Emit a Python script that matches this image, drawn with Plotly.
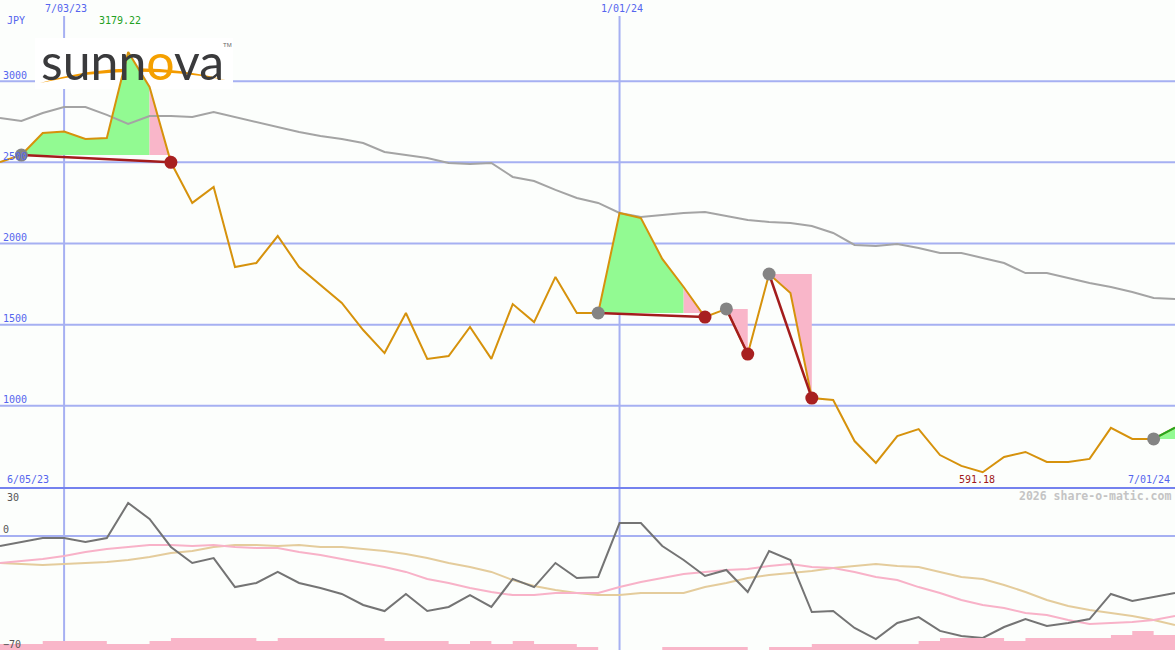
import pandas as pd
import plotly.graph_objects as go

# ---------------- data ----------------
start_date = "2023-06-12"
n_weeks = 56
dates = pd.date_range(start_date, periods=n_weeks, freq="7D")

price = [2502, 2545, 2681, 2690, 2644, 2650, 3179.22, 2964, 2500, 2250,
         2348, 1855, 1880, 2046, 1855, 1744, 1634, 1467, 1325, 1572,
         1289, 1307, 1486, 1289, 1627, 1516, 1794, 1572, 1572, 2188,
         2157, 1905, 1732, 1547, 1597, 1319, 1812, 1695, 1048, 1036,
         783, 648, 814, 857, 697, 630, 591.18, 685, 716, 654,
         654, 673, 864, 796, 796, 866]

moving_avg = [2773, 2755, 2804, 2841, 2841, 2792, 2736, 2785, 2785, 2779,
              2810, 2779, 2748, 2718, 2687, 2662, 2644, 2619, 2564, 2545,
              2527, 2496, 2490, 2496, 2410, 2385, 2330, 2280, 2250, 2188,
              2163, 2176, 2188, 2194, 2170, 2145, 2132, 2126, 2108, 2065,
              1991, 1985, 1997, 1972, 1942, 1942, 1911, 1880, 1818, 1818,
              1788, 1757, 1732, 1701, 1664, 1658]

osc_main = [-6.2, -3.7, -1.3, -1.3, -3.7, -1.3, 20.2, 10.4, -6.8, -16.6,
            -13.6, -31.4, -28.9, -22.1, -28.9, -32.0, -35.6, -42.4, -46.1, -35.6,
            -46.1, -43.6, -36.3, -43.6, -26.4, -31.4, -16.6, -25.8, -25.2, 7.9,
            7.9, -6.2, -14.8, -24.6, -20.9, -34.4, -9.3, -14.8, -46.7, -46.1,
            -56.5, -63.3, -53.4, -49.8, -58.3, -61.4, -62.6, -55.9, -51.0, -55.3,
            -53.4, -51.0, -35.6, -39.9, -37.5, -35.0]

osc_fast = [-16.6, -15.4, -14.2, -12.3, -9.9, -8.0, -6.8, -5.6, -5.6, -6.2,
            -5.6, -6.8, -7.4, -7.4, -9.9, -11.7, -14.2, -16.6, -19.1, -22.1,
            -26.4, -28.9, -32.0, -34.4, -36.3, -36.3, -35.0, -35.0, -35.0, -31.4,
            -28.3, -25.8, -23.4, -22.1, -20.9, -20.3, -18.5, -17.2, -19.1, -19.7,
            -22.1, -25.2, -27.1, -31.4, -35.0, -39.3, -42.4, -44.2, -47.3, -48.5,
            -51.6, -54.0, -53.4, -52.8, -51.6, -49.1]

osc_slow = [-16.6, -17.2, -17.9, -17.2, -16.6, -16.0, -14.8, -12.9, -10.5, -9.3,
            -6.8, -5.6, -5.6, -6.2, -5.6, -6.8, -6.8, -8.0, -9.3, -11.1,
            -13.6, -16.6, -19.1, -22.1, -27.1, -30.7, -33.2, -35.0, -36.3, -36.3,
            -35.0, -35.0, -35.0, -31.4, -28.9, -25.8, -24.0, -22.8, -21.5, -19.7,
            -18.5, -17.2, -18.5, -19.1, -22.1, -25.2, -26.4, -30.1, -34.4, -39.3,
            -43.0, -45.5, -47.3, -49.1, -51.6, -54.7]

volume_m = [2, 2, 3, 3, 3, 2, 2, 3, 4, 4,
            4, 4, 3, 4, 4, 4, 4, 4, 3, 3,
            3, 2, 3, 2, 3, 2, 2, 1, 0, 0,
            0, 1, 1, 1, 1, 0, 1, 1, 2, 2,
            2, 2, 2, 3, 4, 4, 4, 3, 4, 4,
            4, 4, 5, 6.3, 5, 5]

entry_idx = [1, 28, 34, 36, 54]
exit_idx = [8, 33, 35, 38, None]

price_ticks = [1000, 1500, 2000, 2500, 3000]
osc_ticks = [-70, 0]
date_marks = ["2023-07-03", "2024-01-01"]
currency = "JPY"
range_start_label = "6/05/23"
range_end_label = "7/01/24"

# ---------------- styles ----------------
BG = "#fcfefc"
GRID = "#a6b0f2"
AXIS = "#7482ee"
BLUE_TXT = "#5565ee"
PRICE_C = "#d6920c"
MA_C = "#a4a4a4"
GREEN_F = "#92fa92"
PINK_F = "#f9b6c9"
TRADE_C = "#a31c1c"
MONO = "DejaVu Sans Mono"
W, H = 1175, 650
split = 163 / H  # bottom of main panel in paper coords


def px_x(p):
    return p / W


def px_y(p):
    return 1 - p / H


fig = go.Figure()

# ---- trade fills ----
for e, x in zip(entry_idx, exit_idx):
    end = x if x is not None else n_weeks - 1
    ep = price[e]
    k = e
    while k < end:
        col = GREEN_F if price[k + 1] >= ep else PINK_F
        j = k + 1
        while j < end and ((price[j + 1] >= ep) == (col == GREEN_F)):
            j += 1
        xs = list(dates[k:j + 1]) + [dates[j], dates[k]]
        ys = price[k:j + 1] + [ep, ep]
        fig.add_trace(go.Scatter(x=xs, y=ys, fill="toself", fillcolor=col,
                                 mode="none", hoverinfo="skip", xaxis="x", yaxis="y"))
        k = j

# ---- moving average ----
fig.add_trace(go.Scatter(x=dates, y=moving_avg, mode="lines",
                         line=dict(color=MA_C, width=2), hoverinfo="skip"))
# ---- price ----
fig.add_trace(go.Scatter(x=dates, y=price, mode="lines",
                         line=dict(color=PRICE_C, width=2), hoverinfo="skip"))

# ---- trade lines and markers ----
for e, x in zip(entry_idx, exit_idx):
    if x is not None:
        fig.add_trace(go.Scatter(x=[dates[e], dates[x]], y=[price[e], price[x]],
                                 mode="lines", line=dict(color=TRADE_C, width=2.5),
                                 hoverinfo="skip"))
    else:
        fig.add_trace(go.Scatter(x=[dates[e], dates[-1]], y=[price[e], price[-1]],
                                 mode="lines", line=dict(color="#22a822", width=2),
                                 hoverinfo="skip"))
fig.add_trace(go.Scatter(x=[dates[i] for i in entry_idx], y=[price[i] for i in entry_idx],
                         mode="markers", marker=dict(color="#848484", size=13),
                         hoverinfo="skip"))
ex = [i for i in exit_idx if i is not None]
fig.add_trace(go.Scatter(x=[dates[i] for i in ex], y=[price[i] for i in ex],
                         mode="markers", marker=dict(color="#a82020", size=13),
                         hoverinfo="skip"))

# ---- lower panel ----
fig.add_trace(go.Scatter(x=dates, y=volume_m, mode="lines", line_shape="hv",
                         line=dict(width=0, color=PINK_F), fill="tozeroy",
                         fillcolor=PINK_F, xaxis="x2", yaxis="y3", hoverinfo="skip"))
fig.add_trace(go.Scatter(x=dates, y=osc_slow, mode="lines",
                         line=dict(color="#e4cc9c", width=2), xaxis="x2", yaxis="y2",
                         hoverinfo="skip"))
fig.add_trace(go.Scatter(x=dates, y=osc_fast, mode="lines",
                         line=dict(color="#f8b2c8", width=2), xaxis="x2", yaxis="y2",
                         hoverinfo="skip"))
fig.add_trace(go.Scatter(x=dates, y=osc_main, mode="lines",
                         line=dict(color="#747474", width=2), xaxis="x2", yaxis="y2",
                         hoverinfo="skip"))

# ---- shapes: grid, date lines, logo box ----
shapes = []
for v in price_ticks:
    shapes.append(dict(type="line", xref="paper", yref="y", x0=0, x1=1, y0=v, y1=v,
                       line=dict(color=GRID, width=2), layer="below"))
shapes.append(dict(type="line", xref="paper", yref="y2", x0=0, x1=1, y0=0, y1=0,
                   line=dict(color=GRID, width=2), layer="below"))
for d in date_marks:
    shapes.append(dict(type="line", xref="x", yref="paper", x0=d, x1=d, y0=0,
                       y1=px_y(16), line=dict(color=GRID, width=2), layer="below"))
# logo backdrop
shapes.append(dict(type="rect", xref="paper", yref="paper", x0=px_x(35), x1=px_x(233),
                   y0=px_y(89), y1=px_y(38), fillcolor="#ffffff", line=dict(width=0),
                   layer="below"))
# logo swoosh
sw = "M {a},{b} Q {c},{d} {e},{f} Q {g},{h} {a},{b} Z".format(
    a=px_x(40), b=px_y(83), c=px_x(132), d=px_y(55), e=px_x(226), f=px_y(80),
    g=px_x(132), h=px_y(62))
shapes.append(dict(type="path", xref="paper", yref="paper", path=sw,
                   fillcolor="#f39a00", line=dict(width=0), layer="below"))

# ---- annotations ----
ann = []
f10 = dict(family=MONO, size=10, color=BLUE_TXT)
ann.append(dict(text=currency, xref="paper", yref="paper", x=px_x(5), y=px_y(20),
                xanchor="left", yanchor="middle", showarrow=False, font=f10))
for d in date_marks:
    lab = pd.Timestamp(d).strftime("%-m/%d/%y")
    ann.append(dict(text=lab, xref="x", yref="paper", x=d, y=px_y(8), xanchor="center",
                    yanchor="middle", xshift=2, showarrow=False, font=f10))
ann.append(dict(text=range_start_label, xref="paper", yref="paper", x=px_x(5), y=px_y(479),
                xanchor="left", yanchor="middle", showarrow=False, font=f10))
ann.append(dict(text=range_end_label, xref="paper", yref="paper", x=px_x(1172), y=px_y(479),
                xanchor="right", yanchor="middle", showarrow=False, font=f10))
hi = price.index(max(price))
lo = price.index(min(price))
ann.append(dict(text=f"{max(price):.2f}", xref="x", yref="paper", x=dates[hi], y=px_y(20),
                xanchor="center", yanchor="middle", xshift=-8, showarrow=False,
                font=dict(family=MONO, size=10, color="#22a022")))
ann.append(dict(text=f"{min(price):.2f}", xref="x", yref="paper", x=dates[lo], y=px_y(479),
                xanchor="center", yanchor="middle", xshift=-6, showarrow=False,
                font=dict(family=MONO, size=10, color="#a01818")))
ann.append(dict(text="<b>2026 share-o-matic.com</b>", xref="paper", yref="paper",
                x=px_x(1173), y=px_y(496), xanchor="right", yanchor="middle",
                showarrow=False, font=dict(family=MONO, size=11.5, color="#c4c4c4")))
ann.append(dict(text="30", xref="paper", yref="y2", x=px_x(5), y=30, yshift=-3,
                xanchor="left", yanchor="top", showarrow=False,
                font=dict(family=MONO, size=10, color="#555555")))
# logo text
ann.append(dict(text="sunn<span style='color:#f5a000'>o</span>va", xref="paper", yref="paper",
                x=px_x(39), y=px_y(61), xanchor="left", yanchor="middle", showarrow=False,
                font=dict(family="Lato", size=50, color="#3a3a3c")))
ann.append(dict(text="TM", xref="paper", yref="paper", x=px_x(221), y=px_y(45),
                xanchor="left", yanchor="middle", showarrow=False,
                font=dict(family="Liberation Sans", size=6, color="#666666")))

x_range = [dates[0], dates[-1]]
fig.update_layout(
    width=W, height=H, margin=dict(l=0, r=0, t=0, b=0),
    paper_bgcolor=BG, plot_bgcolor=BG, showlegend=False,
    shapes=shapes, annotations=ann,
    xaxis=dict(domain=[0, 1], anchor="y", type="date", range=x_range, showgrid=False,
               showticklabels=False, zeroline=False, showline=True, linecolor=AXIS,
               linewidth=2, ticks=""),
    yaxis=dict(domain=[split, 1], anchor="x", range=[500, 3500], tickvals=price_ticks,
               showgrid=False, zeroline=False, ticks="", ticklabelposition="inside",
               ticklabelshift=-6, tickfont=dict(family=MONO, size=10, color=BLUE_TXT)),
    xaxis2=dict(domain=[0, 1], anchor="y2", type="date", range=x_range, matches="x",
                showgrid=False, showticklabels=False, zeroline=False, ticks=""),
    yaxis2=dict(domain=[0, split], anchor="x2", range=[-70, 30], tickvals=osc_ticks,
                showgrid=False, zeroline=False, ticks="", ticklabelposition="inside",
                ticklabelshift=-6, tickfont=dict(family=MONO, size=10, color="#555555")),
    yaxis3=dict(overlaying="y2", anchor="x2", range=[0, 54.33], visible=False),
)

fig.write_html(
    "out.html",
    config={"displayModeBar": False},
    post_script="document.body.style.margin='0';document.body.style.overflow='hidden';",
)
